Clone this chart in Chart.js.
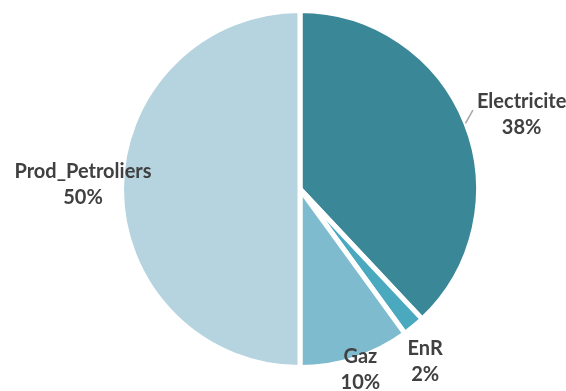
<!DOCTYPE html>
<html>
<head>
<meta charset="utf-8">
<script src="https://cdn.jsdelivr.net/npm/chart.js@4/dist/chart.umd.min.js"></script>
<style>
  html, body { margin: 0; padding: 0; background: #fff; }
  #wrap { width: 566px; height: 391px; }
</style>
</head>
<body>
<div id="wrap"><canvas id="pie"></canvas></div>
<script>
// data
const categories = ['Electricite', 'EnR', 'Gaz', 'Prod_Petroliers']
const shares = [38, 2, 10, 50]
const sliceColors = ['#3a8798', '#4aa9bf', '#7fbbcf', '#b5d4df']

// draws the name + percent labels near each slice's outer mid point
// (the labels were dragged around in the original, so each has its own nudge)
const sliceLabels = {
  id: 'sliceLabels',
  afterDatasetsDraw(chart, args, opts) {
    const ctx = chart.ctx
    const meta = chart.getDatasetMeta(0)
    ctx.save()
    ctx.font = opts.font
    ctx.fillStyle = opts.color
    ctx.textAlign = 'center'
    ctx.textBaseline = 'middle'
    meta.data.forEach((arc, i) => {
      const p = arc.getProps(['x', 'y', 'startAngle', 'endAngle', 'outerRadius'], true)
      const mid = (p.startAngle + p.endAngle) / 2
      const dx = Math.cos(mid), dy = Math.sin(mid)
      const r = p.outerRadius - 2.5
      const ex = p.x + r * dx, ey = p.y + r * dy
      const nudge = opts.nudges[i] || [0, 0]
      const cx = ex + nudge[0], cy = ey + nudge[1]
      const lines = [categories[i], shares[i] + '%']
      const w = Math.max(...lines.map(t => ctx.measureText(t).width))
      const h = opts.lineHeight * lines.length
      lines.forEach((t, k) => {
        ctx.fillText(t, cx, cy - h / 2 + opts.lineHeight * (k + 0.5))
      })
      if (opts.leaders[i]) {
        ctx.strokeStyle = '#a6a6a6'
        ctx.lineWidth = 1.5
        ctx.beginPath()
        ctx.moveTo(ex + 2 * dx, ey + 2 * dy)
        ctx.lineTo(cx - w / 2 - 4, cy - 4)
        ctx.stroke()
      }
    })
    ctx.restore()
  }
}

new Chart(document.getElementById('pie'), {
  type: 'pie',
  data: {
    labels: categories,
    datasets: [{
      data: shares,
      backgroundColor: sliceColors,
      borderColor: '#ffffff',
      borderWidth: 5
    }]
  },
  options: {
    responsive: true,
    maintainAspectRatio: false,
    animation: false,
    layout: { padding: { left: 34, right: 0, top: 8, bottom: 21 } },
    plugins: {
      legend: { display: false },
      tooltip: { enabled: false },
      sliceLabels: {
        font: 'bold 20px Lato, "Open Sans", sans-serif',
        color: '#404040',
        lineHeight: 26,
        nudges: [[58, -10], [13, 37], [6, 13], [-41, -4]],
        leaders: [true, false, false, false]
      }
    }
  },
  plugins: [sliceLabels]
})
</script>
</body>
</html>
